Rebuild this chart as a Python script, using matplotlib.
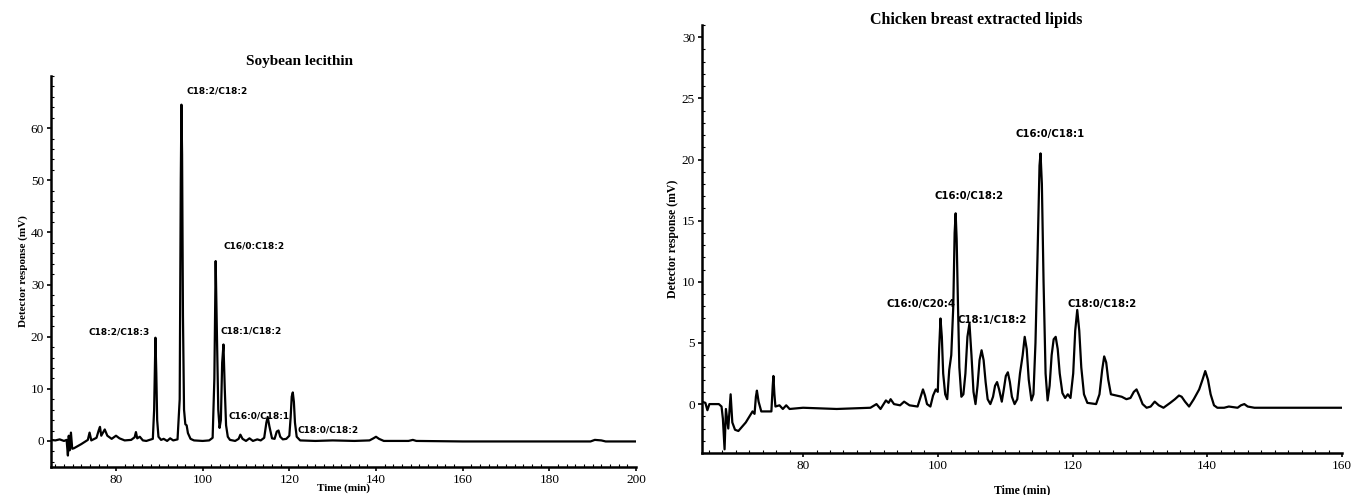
import numpy as np
import matplotlib
matplotlib.use("Agg")
import matplotlib.pyplot as plt
from matplotlib.ticker import MultipleLocator

# Soybean lecithin trace (time in min, response in mV)
soy_time = [65, 66, 67, 68, 68.6, 68.9, 69.1, 69.3, 69.6, 69.9, 70.3, 72, 73.5, 73.9, 74.3,
            75.5, 76.0, 76.3, 76.6, 77.0, 77.4, 78.0, 79.0, 80.0, 80.8, 82, 83.5, 84.3, 84.6,
            84.9, 85.5, 86.2, 87.0, 88.5, 88.8, 89.1, 89.3, 89.5, 89.8, 90.4, 91.0, 91.8, 92.5,
            93.2, 94.2, 94.7, 94.95, 95.1, 95.25, 95.45, 95.7, 96.0, 96.3, 96.6, 97.2, 98, 100,
            101.5, 102.3, 102.7, 103.0, 103.3, 103.6, 103.9, 104.2, 104.5, 104.8, 105.1, 105.4,
            105.8, 106.3, 107.5, 108.3, 108.7, 109.2, 110.0, 110.8, 111.6, 112.6, 113.4, 114.2,
            114.7, 115.0, 115.4, 116.0, 116.6, 117.1, 117.5, 117.9, 118.5, 119.3, 120.0, 120.3,
            120.55, 120.8, 121.05, 121.3, 121.7, 122.5, 126, 130, 135, 138.5, 139.4, 140.0,
            140.7, 141.8, 147.5, 148.5, 149.3, 160, 175, 189.5, 190.5, 192, 193, 200]
soy_signal = [0.2, 0.1, 0.3, 0.0, 0.2, -2.8, 1.0, -1.8, 1.6, -1.5, -1.4, -0.6, 0.2, 1.6, 0.1,
              0.6, 2.0, 2.7, 1.0, 1.6, 2.2, 1.0, 0.4, 1.0, 0.5, 0.1, 0.2, 0.7, 1.7,
              0.5, 0.8, 0.1, 0.0, 0.4, 6.0, 19.8, 13.0, 4.0, 0.8, 0.2, 0.4, 0.0, 0.5,
              0.1, 0.3, 8.0, 50.0, 64.5, 55.0, 24.0, 6.0, 3.2, 3.0, 1.5, 0.4, 0.1, 0.0,
              0.1, 0.6, 12.0, 34.5, 20.0, 6.0, 2.5, 4.0, 15.0, 18.5, 10.0, 3.0,
              0.8, 0.2, 0.0, 0.4, 1.2, 0.4, 0.0, 0.5, 0.0, 0.3, 0.1, 0.6,
              3.5, 4.6, 2.8, 0.5, 0.4, 1.8, 2.0, 0.8, 0.3, 0.4, 1.0, 4.5,
              8.5, 9.3, 7.5, 3.5, 0.8, 0.1, 0.0, 0.1, 0.0, 0.1, 0.5, 0.8,
              0.4, 0.0, 0.0, 0.2, 0.0, -0.1, -0.1, -0.1, 0.2, 0.1, -0.1, -0.1]

# Chicken breast extracted lipids trace
chk_time = [65, 65.5, 65.8, 66.1, 67.5, 67.9, 68.1, 68.35, 68.55, 68.9, 69.25, 69.5, 69.9,
            70.4, 71.5, 72.5, 72.8, 73.0, 73.15, 73.4, 73.8, 75.3, 75.5, 75.6, 75.75, 75.9,
            76.5, 77.0, 77.5, 78.0, 80, 85, 90, 90.9, 91.5, 92.3, 92.7, 93.0, 93.5, 94.4,
            95.0, 95.8, 97.0, 97.4, 97.8, 98.1, 98.4, 98.9, 99.3, 99.7, 100.0, 100.2, 100.4,
            100.6, 100.8, 101.1, 101.4, 101.7, 102.0, 102.3, 102.5, 102.65, 102.8, 103.0,
            103.2, 103.5, 103.8, 104.1, 104.4, 104.7, 105.0, 105.3, 105.6, 105.9, 106.2,
            106.5, 106.8, 107.1, 107.4, 107.8, 108.2, 108.5, 108.8, 109.1, 109.5, 109.8,
            110.1, 110.4, 110.7, 111.0, 111.4, 111.8, 112.2, 112.6, 112.9, 113.2, 113.5,
            113.9, 114.2, 114.5, 114.8, 115.1, 115.25, 115.45, 115.7, 116.0, 116.3, 116.6,
            116.9, 117.2, 117.5, 117.8, 118.1, 118.5, 118.9, 119.3, 119.7, 120.1, 120.4,
            120.7, 121.0, 121.3, 121.7, 122.2, 123.5, 124.0, 124.4, 124.7, 125.0, 125.3,
            125.7, 126.5, 127.3, 128.0, 128.6, 129.1, 129.5, 129.9, 130.4, 131.0, 131.6,
            132.2, 132.8, 133.5, 134.5, 135.2, 135.8, 136.2, 136.7, 137.3, 138.0, 138.8,
            139.3, 139.7, 140.1, 140.5, 141.0, 141.5, 142.5, 143.2, 144.5, 145.0, 145.5,
            146.0, 147, 155, 160]
chk_signal = [0.2, 0.1, -0.5, 0.0, 0.0, -0.2, -1.2, -3.7, -0.4, -2.0, 0.8, -1.5, -2.1,
              -2.2, -1.5, -0.6, -0.8, 0.6, 1.1, 0.2, -0.6, -0.6, 1.5, 2.3, 0.8, -0.2,
              -0.1, -0.4, -0.1, -0.4, -0.3, -0.4, -0.3, 0.0, -0.4, 0.3, 0.1, 0.4, 0.0, -0.1,
              0.2, -0.1, -0.2, 0.5, 1.2, 0.7, 0.0, -0.2, 0.7, 1.2, 1.0, 4.5, 7.0,
              5.5, 2.5, 0.8, 0.4, 2.8, 4.0, 8.0, 14.0, 15.6, 13.5, 8.0,
              3.0, 0.6, 0.8, 2.5, 5.5, 6.6, 4.0, 1.0, 0.0, 1.5, 3.6,
              4.4, 3.6, 1.8, 0.4, 0.0, 0.6, 1.5, 1.8, 1.2, 0.2, 1.2,
              2.3, 2.6, 1.8, 0.6, 0.0, 0.4, 2.5, 4.0, 5.5, 4.5, 2.0,
              0.3, 0.8, 5.0, 12.0, 19.5, 20.5, 18.0, 10.0, 2.5, 0.3, 1.5,
              4.0, 5.3, 5.5, 4.5, 2.5, 0.9, 0.5, 0.8, 0.5, 2.5, 6.0,
              7.7, 6.0, 3.0, 0.8, 0.1, 0.0, 0.8, 2.8, 3.9, 3.4, 2.0,
              0.8, 0.7, 0.6, 0.4, 0.5, 1.0, 1.2, 0.7, 0.0, -0.3, -0.2,
              0.2, -0.1, -0.3, 0.1, 0.4, 0.7, 0.6, 0.2, -0.2, 0.4, 1.2,
              2.0, 2.7, 2.0, 0.8, -0.1, -0.3, -0.3, -0.2, -0.3, -0.1, 0.0,
              -0.2, -0.3, -0.3, -0.3]

soy_yticks = [0, 10, 20, 30, 40, 50, 60]
chk_yticks = [0, 5, 10, 15, 20, 25, 30]

soy_labels = ["C18:2/C18:3", "C18:2/C18:2", "C16/0:C18:2", "C18:1/C18:2",
              "C16:0/C18:1", "C18:0/C18:2"]
soy_label_x = [73.6, 96.3, 104.8, 104.2, 105.9, 121.8]
soy_label_y = [20.8, 67.1, 37.3, 21.0, 4.8, 2.1]

chk_labels = ["C16:0/C20:4", "C16:0/C18:2", "C18:1/C18:2", "C16:0/C18:1", "C18:0/C18:2"]
chk_label_x = [92.4, 99.5, 103.0, 111.6, 119.3]
chk_label_y = [8.2, 17.0, 6.9, 22.1, 8.2]

serif = ["Liberation Serif", "DejaVu Serif"]

fig = plt.figure(figsize=(13.65, 4.95), dpi=100)
ax1 = fig.add_axes([51 / 1365, 1 - 467 / 495, 585 / 1365, 391 / 495])
ax2 = fig.add_axes([702 / 1365, 1 - 453 / 495, 640 / 1365, 428 / 495])


def style(ax, xlim, ylim, yticks, lab_size, xlab_pad):
    ax.set_xlim(*xlim)
    ax.set_ylim(*ylim)
    ax.xaxis.set_major_locator(MultipleLocator(20))
    ax.xaxis.set_minor_locator(MultipleLocator(2))
    ax.set_yticks(yticks)
    ax.yaxis.set_minor_locator(MultipleLocator((yticks[1] - yticks[0]) / 5))
    for s in ("top", "right"):
        ax.spines[s].set_visible(False)
    for s in ("left", "bottom"):
        ax.spines[s].set_linewidth(1.8)
    ax.tick_params(which="major", length=3, width=1.2, labelsize=9.5, pad=2)
    ax.tick_params(which="minor", length=2, width=0.8, direction="in")
    for t in ax.get_xticklabels() + ax.get_yticklabels():
        t.set_family(serif)
    ax.set_xlabel("Time (min)", family=serif, fontweight="bold", fontsize=lab_size,
                  labelpad=xlab_pad)
    ax.set_ylabel("Detector response (mV)", family=serif, fontweight="bold",
                  fontsize=lab_size, labelpad=2)


ax1.plot(soy_time, soy_signal, color="black", lw=1.6)
style(ax1, (65, 200), (-5, 70), soy_yticks, 8, -2)
for txt, x, y in zip(soy_labels, soy_label_x, soy_label_y):
    ax1.text(x, y, txt, fontsize=6.5, fontweight="bold", ha="left", va="center")

ax2.plot(chk_time, chk_signal, color="black", lw=1.6)
style(ax2, (65, 160), (-4, 31), chk_yticks, 8.5, 9)
for txt, x, y in zip(chk_labels, chk_label_x, chk_label_y):
    ax2.text(x, y, txt, fontsize=7.3, fontweight="bold", ha="left", va="center")

fig.text(299 / 1365, 1 - 62 / 495, "Soybean lecithin", family=serif, fontweight="bold",
         fontsize=11, ha="center", va="center")
fig.text(976 / 1365, 1 - 20 / 495, "Chicken breast extracted lipids", family=serif,
         fontweight="bold", fontsize=11.5, ha="center", va="center")

fig.savefig("out.png", dpi=100, facecolor="white")
